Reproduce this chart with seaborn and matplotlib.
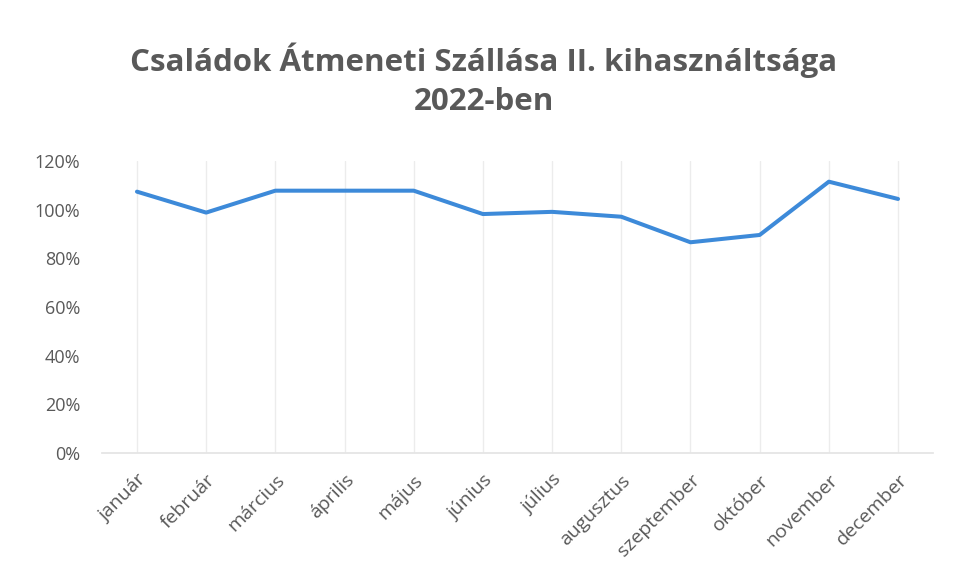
import pandas as pd
import matplotlib
matplotlib.use("Agg")
import matplotlib.pyplot as plt
import seaborn as sns
from matplotlib.ticker import PercentFormatter

months = ["január", "február", "március", "április", "május", "június",
          "július", "augusztus", "szeptember", "október", "november", "december"]
occupancy = [1.074, 0.988, 1.078, 1.078, 1.078, 0.982,
             0.991, 0.971, 0.866, 0.896, 1.115, 1.044]
y_ticks = [0, 0.2, 0.4, 0.6, 0.8, 1.0, 1.2]

df = pd.DataFrame({"month": months, "occupancy": occupancy})
df["pos"] = range(len(months))

sns.set_theme(style="white")
plt.rcParams["font.family"] = ["Open Sans", "DejaVu Sans"]

fig = plt.figure(figsize=(9.54, 5.85), dpi=100)
ax = fig.add_axes([0.1073, 0.2256, 0.8703, 0.4992])

sns.lineplot(data=df, x="pos", y="occupancy", color="#3d8ad9", linewidth=2.9,
             solid_capstyle="round", ax=ax)

ax.set_xlim(-0.5, len(months) - 0.5)
ax.set_ylim(0, 1.2)
ax.set_yticks(y_ticks)
ax.yaxis.set_major_formatter(PercentFormatter(1.0, decimals=0))
ax.set_xticks(df["pos"])
ax.set_xticklabels(months, rotation=45, ha="right", va="top", rotation_mode="anchor")
ax.grid(True, axis="x", color="#ececec", linewidth=1)
ax.set_axisbelow(True)
for side in ["top", "right", "left"]:
    ax.spines[side].set_visible(False)
ax.spines["bottom"].set_color("#e4e4e4")
ax.tick_params(axis="both", length=0, colors="#595959")
ax.tick_params(axis="y", labelsize=13, pad=16)
ax.tick_params(axis="x", labelsize=14, pad=13)
ax.set_xlabel("")
ax.set_ylabel("")

fig.suptitle("Családok Átmeneti Szállása II. kihasználtsága\n2022-ben",
             x=0.507, y=0.928, fontsize=22.5, fontweight="bold", color="#595959",
             linespacing=1.4)

fig.savefig("out.png", dpi=100, facecolor="white")
